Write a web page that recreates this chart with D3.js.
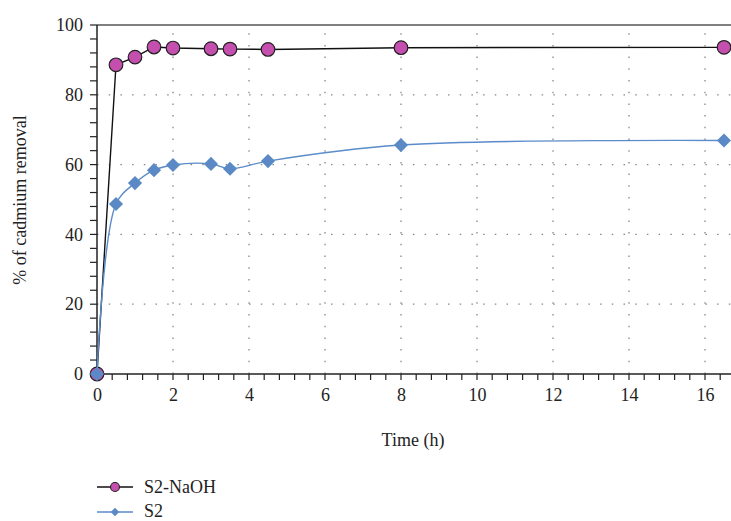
<!DOCTYPE html>
<html><head><meta charset="utf-8">
<script src="https://cdn.jsdelivr.net/npm/d3@7/dist/d3.min.js"></script>
<style>body{margin:0;background:#fff}</style>
</head><body>
<svg id="c" width="731" height="521"></svg>
<script>
const times = [0, 0.5, 1, 1.5, 2, 3, 3.5, 4.5, 8, 16.5];
const s2NaOH = [0, 88.6, 90.8, 93.7, 93.4, 93.2, 93.1, 93.0, 93.5, 93.6];
const s2 = [0, 48.7, 54.7, 58.4, 59.9, 60.2, 58.8, 61.0, 65.6, 66.9];
const xTicks = [0, 2, 4, 6, 8, 10, 12, 14, 16];
const yTicks = [0, 20, 40, 60, 80, 100];
const seriesNames = ["S2-NaOH", "S2"];

const FONT = "'Liberation Serif', 'Times New Roman', 'DejaVu Serif', serif";
const svg = d3.select("#c");
const L = 97, R = 731, T = 25, B = 374;
const x = d3.scaleLinear().domain([0, (R - L) / 38]).range([L, R]);
const y = d3.scaleLinear().domain([0, 100]).range([B, T]);

// grid
const g = svg.append("g");
g.selectAll(".vg").data(xTicks.filter(d => d > 0)).join("line")
  .attr("x1", d => x(d)).attr("x2", d => x(d)).attr("y1", B).attr("y2", T)
  .attr("stroke", "#888").attr("stroke-width", 1.3).attr("stroke-dasharray", "1.5,10.2");
g.selectAll(".hg").data(yTicks.filter(d => d > 0 && d < 100)).join("line")
  .attr("x1", L).attr("x2", R).attr("y1", d => y(d)).attr("y2", d => y(d))
  .attr("stroke", "#888").attr("stroke-width", 1.3).attr("stroke-dasharray", "1.5,10.2");

// top frame
svg.append("line").attr("x1", L).attr("x2", R).attr("y1", T).attr("y2", T)
  .attr("stroke", "#555").attr("stroke-width", 1.3);

// axes
const xAxis = d3.axisBottom(x).tickValues(xTicks).tickSize(0).tickPadding(14).tickFormat(d3.format("d"));
const xa = svg.append("g").attr("transform", `translate(0,${B})`).call(xAxis);
xa.attr("font-family", null);
xa.select(".domain").remove();
xa.selectAll("text").style("font-size", "18px").style("font-family", FONT).attr("fill", "#222");
const xMinor = d3.range(0, 16.7, 0.4);
svg.append("g").selectAll("line").data(xMinor).join("line")
  .attr("x1", d => x(d)).attr("x2", d => x(d)).attr("y1", B).attr("y2", B + 6)
  .attr("stroke", "#222").attr("stroke-width", 1.2);

const yAxis = d3.axisLeft(y).tickValues(yTicks).tickSize(0).tickPadding(14);
const ya = svg.append("g").attr("transform", `translate(${L},0)`).call(yAxis);
ya.attr("font-family", null);
ya.select(".domain").remove();
ya.selectAll("text").style("font-size", "18px").style("font-family", FONT).attr("fill", "#222");
svg.append("g").selectAll("line").data(d3.range(0, 101, 4)).join("line")
  .attr("x1", L - 7).attr("x2", L).attr("y1", d => y(d)).attr("y2", d => y(d))
  .attr("stroke", "#222").attr("stroke-width", 1.2);

svg.append("line").attr("x1", L).attr("x2", R).attr("y1", B).attr("y2", B).attr("stroke", "#222").attr("stroke-width", 1.5);
svg.append("line").attr("x1", L).attr("x2", L).attr("y1", B).attr("y2", T).attr("stroke", "#222").attr("stroke-width", 1.5);

// titles
svg.append("text").attr("x", 413).attr("y", 446).attr("text-anchor", "middle")
  .style("font-size", "18px").style("font-family", FONT).attr("fill", "#222").text("Time (h)");
svg.append("text").attr("transform", "translate(20,200) rotate(-90)").attr("text-anchor", "middle").attr("dy", "0.35em")
  .style("font-size", "18px").style("font-family", FONT).attr("fill", "#222").text("% of cadmium removal");

// data
const d1 = times.map((t, i) => [t, s2NaOH[i]]);
const d2 = times.map((t, i) => [t, s2[i]]);
const line1 = d3.line().x(d => x(d[0])).y(d => y(d[1]));
const line2 = d3.line().x(d => x(d[0])).y(d => y(d[1])).curve(d3.curveCatmullRom.alpha(0.5));

const circleColor = "#c44fae", diamondColor = "#5a89c6", lineBlue = "#5a8bca";
svg.append("path").datum(d1).attr("d", line1).attr("fill", "none").attr("stroke", "#111").attr("stroke-width", 1.4);
svg.append("g").selectAll("circle").data(d1).join("circle")
  .attr("cx", d => x(d[0])).attr("cy", d => y(d[1])).attr("r", 6.8)
  .attr("fill", circleColor).attr("stroke", "#222").attr("stroke-width", 1.2);

svg.append("path").datum(d2).attr("d", line2).attr("fill", "none").attr("stroke", lineBlue).attr("stroke-width", 1.4);
svg.append("g").selectAll("path").data(d2).join("path")
  .attr("transform", d => `translate(${x(d[0])},${y(d[1])}) rotate(45)`)
  .attr("d", d3.symbol().type(d3.symbolSquare).size(100)())
  .attr("fill", diamondColor);

// legend
const lg = svg.append("g");
lg.append("line").attr("x1", 97).attr("x2", 133).attr("y1", 487).attr("y2", 487).attr("stroke", "#111").attr("stroke-width", 1.4);
lg.append("circle").attr("cx", 115).attr("cy", 487).attr("r", 4.5).attr("fill", circleColor).attr("stroke", "#222").attr("stroke-width", 1.1);
lg.append("text").attr("x", 144).attr("y", 487).attr("dy", "0.35em")
  .style("font-size", "18px").style("font-family", FONT).attr("fill", "#222").text(seriesNames[0]);
lg.append("line").attr("x1", 97).attr("x2", 133).attr("y1", 512).attr("y2", 512).attr("stroke", lineBlue).attr("stroke-width", 1.4);
lg.append("path").attr("transform", "translate(115,512) rotate(45)").attr("d", d3.symbol().type(d3.symbolSquare).size(36)()).attr("fill", diamondColor);
lg.append("text").attr("x", 144).attr("y", 511).attr("dy", "0.35em")
  .style("font-size", "18px").style("font-family", FONT).attr("fill", "#222").text(seriesNames[1]);
</script>
</body></html>
